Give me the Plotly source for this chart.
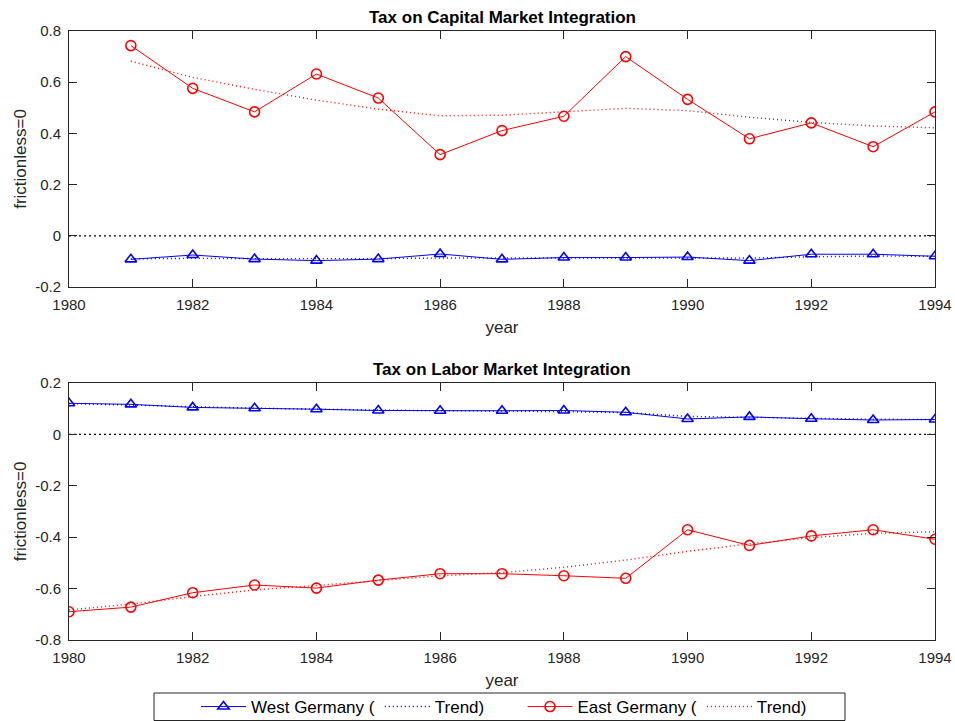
import plotly.graph_objects as go

# ---- data -------------------------------------------------------------
years = list(range(1980, 1995))          # labour panel
cap_years = list(range(1981, 1995))      # capital panel starts in 1981

cap_west = [-0.092, -0.075, -0.091, -0.097, -0.091, -0.071, -0.092,
            -0.085, -0.085, -0.083, -0.097, -0.072, -0.072, -0.080]
cap_west_trend = [-0.090, -0.088, -0.089, -0.090, -0.089, -0.087, -0.087,
                  -0.087, -0.087, -0.088, -0.087, -0.082, -0.079, -0.080]
cap_east = [0.743, 0.576, 0.484, 0.632, 0.538, 0.317, 0.411,
            0.467, 0.700, 0.533, 0.379, 0.441, 0.348, 0.484]
cap_east_trend = [0.682, 0.619, 0.572, 0.530, 0.495, 0.469, 0.471,
                  0.485, 0.498, 0.489, 0.463, 0.443, 0.429, 0.422]

lab_west = [0.121, 0.117, 0.105, 0.102, 0.098, 0.093, 0.092, 0.092,
            0.093, 0.086, 0.060, 0.068, 0.061, 0.056, 0.058]
lab_west_trend = [0.120, 0.114, 0.107, 0.102, 0.098, 0.094, 0.092, 0.091,
                  0.089, 0.085, 0.070, 0.066, 0.062, 0.059, 0.058]
lab_east = [-0.690, -0.672, -0.616, -0.586, -0.598, -0.567, -0.542, -0.542,
            -0.550, -0.560, -0.371, -0.432, -0.395, -0.371, -0.408]
lab_east_trend = [-0.683, -0.660, -0.631, -0.605, -0.588, -0.568, -0.550, -0.538,
                  -0.517, -0.489, -0.455, -0.426, -0.402, -0.385, -0.379]

x_ticks = list(range(1980, 1995, 2))
cap_yticks = [-0.2, 0, 0.2, 0.4, 0.6, 0.8]
cap_ytext = ["-0.2", "0", "0.2", "0.4", "0.6", "0.8"]
lab_yticks = [-0.8, -0.6, -0.4, -0.2, 0, 0.2]
lab_ytext = ["-0.8", "-0.6", "-0.4", "-0.2", "0", "0.2"]

titles = ["Tax on Capital Market Integration", "Tax on Labor Market Integration"]
names = ["West Germany (", "Trend)", "East Germany (", "Trend)"]

BLUE = "#0000ff"
RED = "#ff0000"
AXIS = "#262626"
FONT = "Liberation Sans, Arial, Helvetica, sans-serif"

fig = go.Figure()


def add_panel(xs, west, west_tr, east, east_tr, xa, ya, legend):
    fig.add_trace(go.Scatter(
        x=xs, y=west, mode="lines+markers", name=names[0],
        line=dict(color=BLUE, width=1),
        marker=dict(symbol="triangle-up-open", size=10, color=BLUE,
                    line=dict(width=1.6, color=BLUE)),
        xaxis=xa, yaxis=ya, showlegend=legend, legend="legend"))
    fig.add_trace(go.Scatter(
        x=xs, y=west_tr, mode="lines", name=names[1],
        line=dict(color=BLUE, width=1.4, dash="1px,3px"),
        xaxis=xa, yaxis=ya, showlegend=legend, legend="legend"))
    fig.add_trace(go.Scatter(
        x=xs, y=east, mode="lines+markers", name=names[2],
        line=dict(color=RED, width=1),
        marker=dict(symbol="circle-open", size=10, color=RED,
                    line=dict(width=1.6, color=RED)),
        xaxis=xa, yaxis=ya, showlegend=legend, legend="legend2"))
    fig.add_trace(go.Scatter(
        x=xs, y=east_tr, mode="lines", name=names[3],
        line=dict(color=RED, width=1.4, dash="1px,3px"),
        xaxis=xa, yaxis=ya, showlegend=legend, legend="legend2"))


add_panel(cap_years, cap_west, cap_west_trend, cap_east, cap_east_trend, "x", "y", True)
add_panel(years, lab_west, lab_west_trend, lab_east, lab_east_trend, "x2", "y2", False)

# frictionless reference line at zero
for xa, ya in (("x", "y"), ("x2", "y2")):
    fig.add_shape(type="line", xref=f"{xa} domain", yref=ya, x0=0, x1=1, y0=0, y1=0,
                  line=dict(color="black", width=1.3, dash="2px,3px"), layer="below")

W, H = 955, 721
ML, MR, MT, MB = 69, 20, 31, 81
plot_w = W - ML - MR
plot_h = H - MT - MB


def px_x(px):
    return (px - ML) / plot_w


def px_y(px):
    return (H - MB - px) / plot_h


common_x = dict(range=[1980, 1994], tickvals=x_ticks, ticks="inside", ticklen=8,
                tickcolor=AXIS, showline=True, linecolor=AXIS, linewidth=1, mirror="ticks",
                showgrid=False, zeroline=False, ticklabelstandoff=4,
                tickfont=dict(family=FONT, size=15, color=AXIS),
                title=dict(text="year", font=dict(family=FONT, size=17, color=AXIS), standoff=9))
common_y = dict(ticks="inside", ticklen=8, tickcolor=AXIS, showline=True, linecolor=AXIS,
                linewidth=1, mirror="ticks", showgrid=False, zeroline=False,
                ticklabelstandoff=4,
                tickfont=dict(family=FONT, size=15, color=AXIS),
                title=dict(text="frictionless=0", font=dict(family=FONT, size=17, color=AXIS),
                           standoff=4))

legend_common = dict(orientation="h", xanchor="center", y=px_y(707), yanchor="middle",
                     borderwidth=0, bgcolor="rgba(0,0,0,0)",
                     font=dict(family=FONT, size=17, color="black"), itemwidth=45,
                     traceorder="normal")

fig.update_layout(
    width=W, height=H,
    margin=dict(l=ML, r=MR, t=MT, b=MB, autoexpand=False),
    paper_bgcolor="white", plot_bgcolor="white",
    font=dict(family=FONT, color=AXIS),
    xaxis=dict(common_x, anchor="y", domain=[0, 1]),
    yaxis=dict(common_y, anchor="x", domain=[px_y(287), px_y(31)], range=[-0.2, 0.8],
               tickvals=cap_yticks, ticktext=cap_ytext),
    xaxis2=dict(common_x, anchor="y2", domain=[0, 1]),
    yaxis2=dict(common_y, anchor="x2", domain=[px_y(640), px_y(383)], range=[-0.8, 0.2],
                tickvals=lab_yticks, ticktext=lab_ytext),
    legend=dict(legend_common, x=px_x(343)),
    legend2=dict(legend_common, x=px_x(667)),
    showlegend=True,
)

# frame around both legend groups
fig.add_shape(type="rect", xref="paper", yref="paper",
              x0=px_x(154), x1=px_x(845), y0=px_y(720.5), y1=px_y(693),
              line=dict(color=AXIS, width=1), fillcolor="rgba(0,0,0,0)")

for title, top_px in zip(titles, (31, 383)):
    fig.add_annotation(text=f"<b>{title}</b>", xref="paper", yref="paper", x=0.5,
                       y=px_y(top_px), yanchor="bottom", yshift=2,
                       showarrow=False, font=dict(family=FONT, size=17, color="black"))

fig.write_html("out.html")
